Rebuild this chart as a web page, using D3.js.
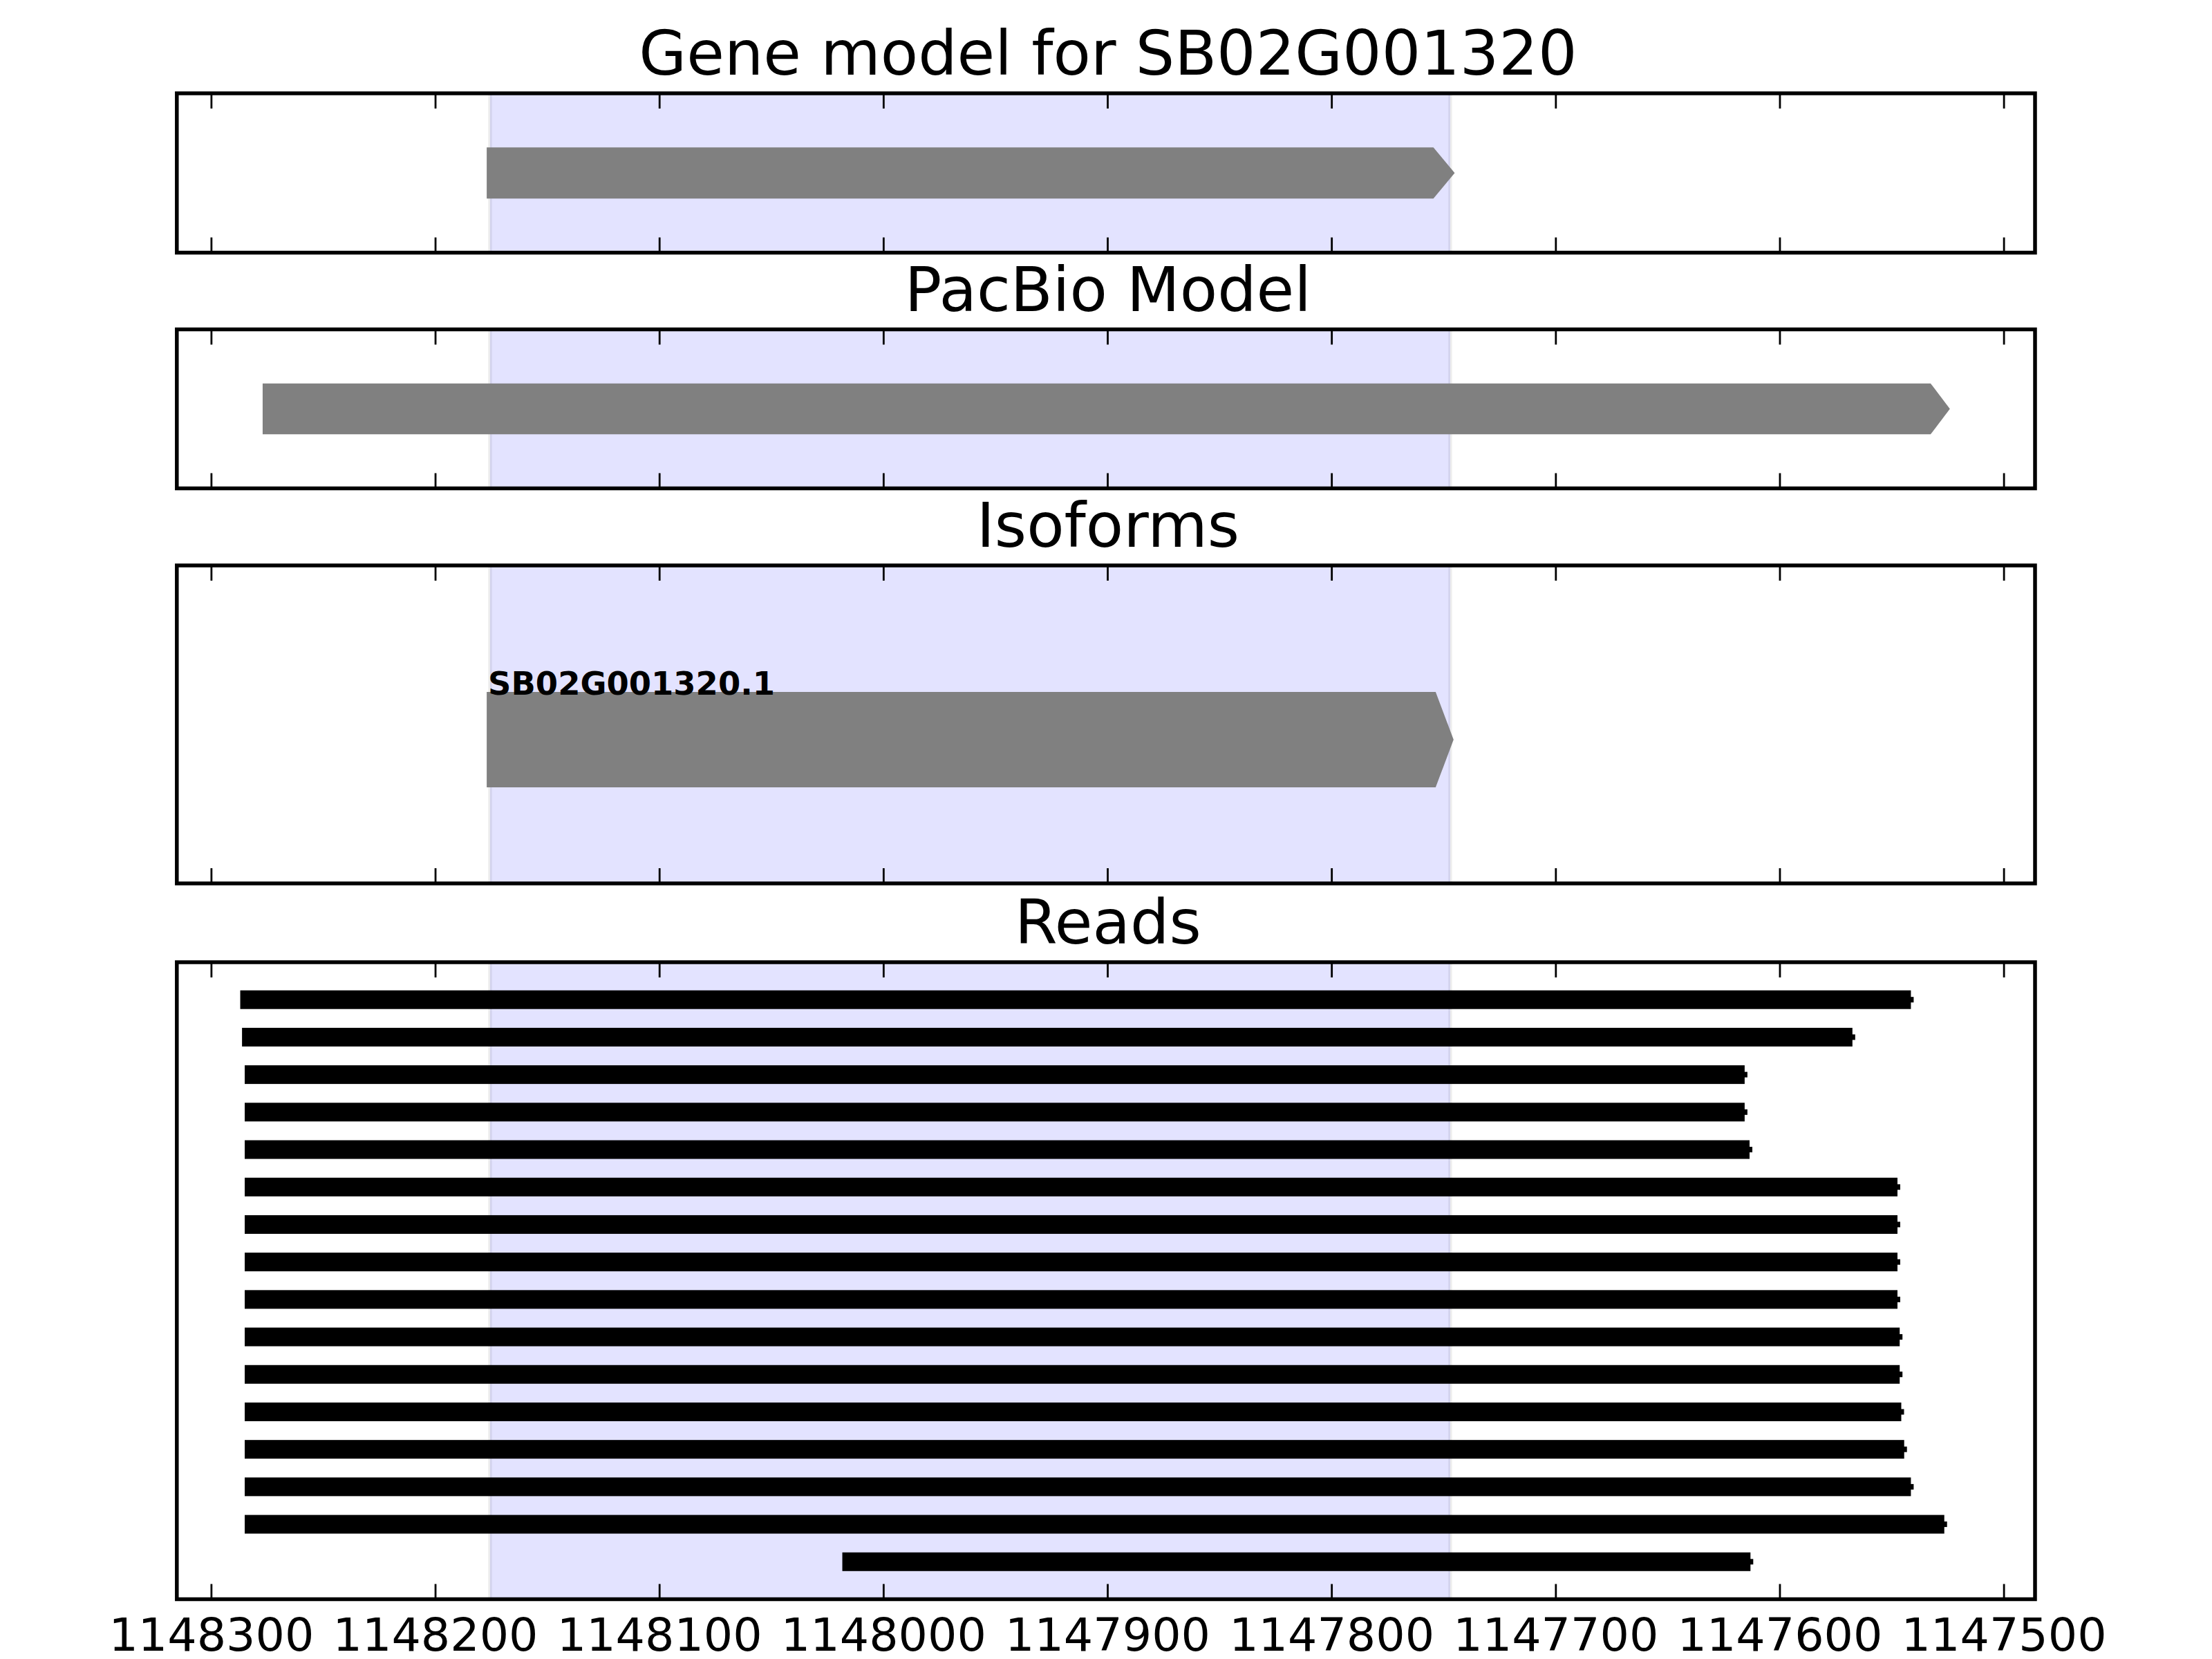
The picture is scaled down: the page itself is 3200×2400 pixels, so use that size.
<!DOCTYPE html>
<html lang="en">
<head>
  <meta charset="UTF-8">
  <title>Gene model SB02G001320</title>
  <script src="https://cdn.jsdelivr.net/npm/d3@7"></script>
  <style>
    body { margin: 0; background: #fff; }
    svg { display: block; font-family: "DejaVu Sans", sans-serif; }
  </style>
</head>
<body>
<svg></svg>
<script>
  // genomic coordinates (axis runs high -> low)
  const xDomain = [1148315.3, 1147486]
  const tickValues = [1148300, 1148200, 1148100, 1148000, 1147900, 1147800, 1147700, 1147600, 1147500]
  const highlight = [1148175.5, 1147747]

  const panelTitles = ['Gene model for SB02G001320', 'PacBio Model', 'Isoforms', 'Reads']

  // gene model / pacbio model: [start, tip], head length in bp
  const geneModel = [1148177, 1147745]
  const geneHead = 9.5
  const pacbioModel = [1148277, 1147524]
  const pacbioHead = 8.6

  const isoformNames = ['SB02G001320.1']
  const isoformStarts = [1148177]
  const isoformEnds = [1147745.5]
  const isoformHead = 8

  const readStarts = [1148287.0, 1148286.2, 1148285, 1148285, 1148285, 1148285, 1148285, 1148285,
    1148285, 1148285, 1148285, 1148285, 1148285, 1148285, 1148285, 1148018.3]
  const readEnds = [1147541.4, 1147567.5, 1147615.6, 1147615.6, 1147613.4, 1147547.4, 1147547.4, 1147547.4,
    1147547.4, 1147546.4, 1147546.4, 1147545.7, 1147544.4, 1147541.4, 1147526.5, 1147613]

  const width = 3200, height = 2400
  const left = 255.8, right = 2944
  const panels = [
    {top: 135, bottom: 365.5},
    {top: 476.5, bottom: 706.5},
    {top: 818, bottom: 1278},
    {top: 1392, bottom: 2313.5}
  ]

  const svg = d3.select('svg')
      .attr('width', width)
      .attr('height', height)
      .attr('viewBox', [0, 0, width, height])

  svg.append('rect').attr('width', width).attr('height', height).attr('fill', '#fff')

  const x = d3.scaleLinear().domain(xDomain).range([left, right])

  const arrow = (x0, tip, head, yc, h) => {
    const xb = x(tip + head)
    return [[x(x0), yc - h / 2], [xb, yc - h / 2], [x(tip), yc], [xb, yc + h / 2], [x(x0), yc + h / 2]]
  }

  panels.forEach((p, i) => {
    const g = svg.append('g')
    const clipId = 'clip' + i
    g.append('clipPath').attr('id', clipId)
        .append('rect').attr('x', left).attr('y', p.top).attr('width', right - left).attr('height', p.bottom - p.top)

    const inner = g.append('g').attr('clip-path', `url(#${clipId})`)

    // highlighted region
    inner.append('rect')
        .attr('x', x(highlight[0]))
        .attr('y', p.top - 10)
        .attr('width', x(highlight[1]) - x(highlight[0]))
        .attr('height', p.bottom - p.top + 20)
        .attr('fill', '#e3e3ff')
        .attr('stroke', 'rgba(0,0,0,0.07)')
        .attr('stroke-width', 5.5)

    const y = d3.scaleLinear().domain([0, 1]).range([p.bottom, p.top])

    if (i === 0) {
      inner.append('polygon')
          .attr('points', arrow(geneModel[0], geneModel[1], geneHead, y(0.5), y(0) - y(0.32)).join(' '))
          .attr('fill', '#808080')
    } else if (i === 1) {
      inner.append('polygon')
          .attr('points', arrow(pacbioModel[0], pacbioModel[1], pacbioHead, y(0.5), y(0) - y(0.32)).join(' '))
          .attr('fill', '#808080')
    } else if (i === 2) {
      const isoY = [0.452]
      isoformNames.forEach((name, k) => {
        const h = y(0) - y(0.3)
        inner.append('polygon')
            .attr('points', arrow(isoformStarts[k], isoformEnds[k], isoformHead, y(isoY[k]), h).join(' '))
            .attr('fill', '#808080')
        inner.append('text')
            .attr('x', x(isoformStarts[k]) + 2)
            .attr('y', y(isoY[k]) - h / 2 + 4)
            .attr('font-size', 46.4)
            .attr('font-weight', 'bold')
            .attr('fill', '#000')
            .text(name)
      })
    } else {
      const yr = d3.scaleLinear().domain([-1, 16]).range([p.top, p.bottom])
      const reads = readStarts.map((s, k) => ({s, e: readEnds[k], k}))
      inner.selectAll('rect.read').data(reads).join('rect')
          .attr('class', 'read')
          .attr('x', d => x(d.s))
          .attr('y', d => yr(d.k) - 13.5)
          .attr('width', d => x(d.e) - x(d.s))
          .attr('height', 27)
          .attr('fill', '#000')
      inner.selectAll('rect.nub').data(reads).join('rect')
          .attr('class', 'nub')
          .attr('x', d => x(d.e) - 1)
          .attr('y', d => yr(d.k) - 4)
          .attr('width', 5)
          .attr('height', 8)
          .attr('fill', '#000')
    }

    // inward ticks top and bottom
    const last = i === panels.length - 1
    const bottomAxis = g.append('g')
        .attr('transform', `translate(0,${p.bottom})`)
        .call(d3.axisBottom(x).tickValues(tickValues).tickSize(-22).tickPadding(27)
            .tickFormat(last ? d3.format('d') : ''))
        .call(a => a.select('.domain').remove())
    bottomAxis.selectAll('line').attr('stroke-width', 2.8)
    bottomAxis.attr('font-family', null).attr('font-size', 66.7)
    bottomAxis.selectAll('text').attr('fill', '#000')

    g.append('g')
        .attr('transform', `translate(0,${p.top})`)
        .call(d3.axisTop(x).tickValues(tickValues).tickSize(-22).tickFormat(''))
        .call(a => a.select('.domain').remove())
        .selectAll('line').attr('stroke-width', 2.8)

    // frame
    g.append('rect')
        .attr('x', left).attr('y', p.top)
        .attr('width', right - left).attr('height', p.bottom - p.top)
        .attr('fill', 'none')
        .attr('stroke', '#000')
        .attr('stroke-width', 5.5)

    g.append('text')
        .attr('x', (left + right) / 2 + 3)
        .attr('y', p.top - 27)
        .attr('text-anchor', 'middle')
        .attr('font-size', 88.9)
        .attr('fill', '#000')
        .text(panelTitles[i])
  })
</script>
</body>
</html>
